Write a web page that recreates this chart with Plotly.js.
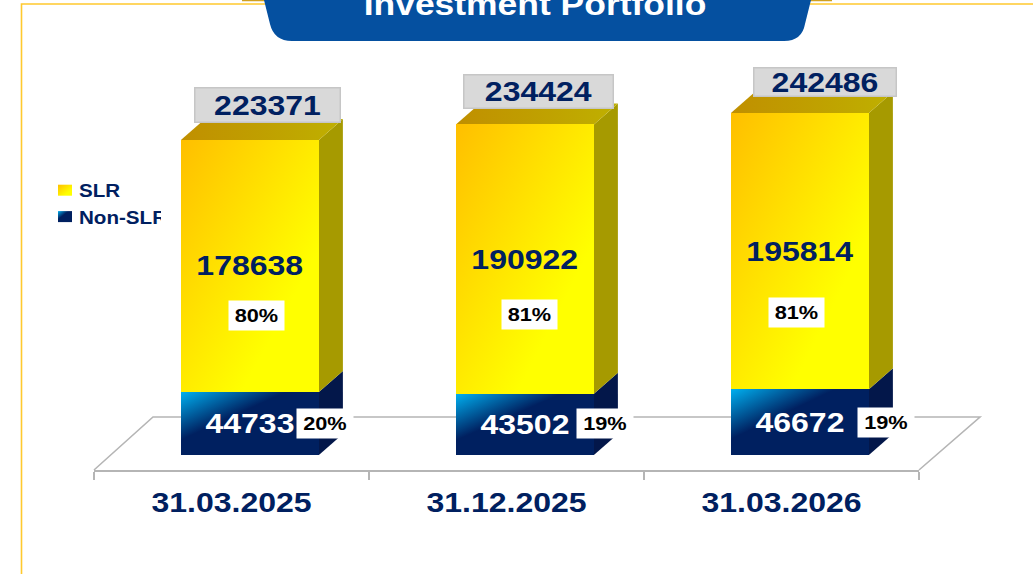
<!DOCTYPE html>
<html>
<head>
<meta charset="utf-8">
<script src="https://cdn.plot.ly/plotly-3.0.1.min.js"></script>
<style>html,body{margin:0;padding:0;background:#fff;overflow:hidden}</style>
</head>
<body>
<div id="chart" style="width:1033px;height:574px"></div>
<script>
// ---- data ----
const categories = ['31.03.2025', '31.12.2025', '31.03.2026'];
const slr = [178638, 190922, 195814];
const nonSlr = [44733, 43502, 46672];
const totals = [223371, 234424, 242486];
const slrPct = ['80%', '81%', '81%'];
const nonSlrPct = ['20%', '19%', '19%'];

// ---- layout constants ----
const L = 94, R = 919, T = 50, B = 470, W = 1033, H = 574;
const K = 0.00141;            // pixels per unit
const PW = R - L, PH = B - T;
const px = v => (v - L) / PW, py = v => (B - v) / PH;
const NAVY = '#002060', STRETCH = 1.143;
const barOff = -0.184, barW = 0.5018;
const depthX = 24 / 275, depthY = 21 / K;

const totalBox = [{dx: 18, dy: -35, w: 144, h: 33}, {dx: 14, dy: -33, w: 148, h: 32}, {dx: 25, dy: -31, w: 141, h: 27}];
const slrBox = [{dx: 7, dy: 50}, {dx: 5, dy: 55}, {dx: -3, dy: 61}];
const nonBox = [{dx: 75, dy: 0}, {dx: 80, dy: -1}, {dx: 86, dy: 0}];

const traces = [
  {type: 'bar', name: 'Non-SLR', x: categories, y: nonSlr, width: barW, offset: barOff,
   marker: {color: '#002060', line: {width: 0}}, legendgroup: 'b', hoverinfo: 'none'},
  {type: 'bar', name: 'SLR', x: categories, y: slr, width: barW, offset: barOff,
   marker: {color: '#ffe000', line: {width: 0}}, legendgroup: 'a', hoverinfo: 'none'}
];

const paperPath = (d, fill, line, lw) => ({type: 'path', xref: 'paper', yref: 'paper', path: d,
  fillcolor: fill, line: {color: line || 'rgba(0,0,0,0)', width: lw || 0}, layer: 'below'});
const P = (x, y) => px(x).toFixed(5) + ',' + py(y).toFixed(5);

const shapes = [
  paperPath('M' + P(21.5, 574) + 'L' + P(21.5, 4) + 'L' + P(265, 4), 'rgba(0,0,0,0)', '#ffc92e', 1.6),
  paperPath('M' + P(810, 4) + 'L' + P(1033, 4), 'rgba(0,0,0,0)', '#ffc92e', 1.6),
  paperPath('M' + P(242, 0) + 'L' + P(832, 0) + 'L' + P(832, 1.2) + 'L' + P(242, 1.2) + 'Z', '#d0a020'),
  paperPath('M' + P(264, 0) + 'L' + P(270, 24) + 'Q' + P(274, 41) + ' ' + P(292, 41) + 'L' + P(784, 41) +
            'Q' + P(802, 41) + ' ' + P(805, 24) + 'L' + P(811, 0) + 'Z', '#0550a0'),
  paperPath('M' + P(94, 470) + 'L' + P(153, 417) + 'L' + P(980, 417) + 'L' + P(919, 470), '#ffffff', '#b5b5b5', 1.6)
];

const dataPath = (d, fill) => ({type: 'path', xref: 'x', yref: 'y', path: d, fillcolor: fill,
  line: {width: 0, color: 'rgba(0,0,0,0)'}, layer: 'below'});
categories.forEach((c, i) => {
  const x1 = i + barOff + barW, x0 = i + barOff, xs = x1 + depthX;
  const y1 = nonSlr[i], y2 = nonSlr[i] + slr[i];
  shapes.push(dataPath(`M${x1},0L${xs},${depthY}L${xs},${y1 + depthY}L${x1},${y1}Z`, '#03174a'));
  shapes.push(dataPath(`M${x1},${y1}L${xs},${y1 + depthY}L${xs},${y2 + depthY}L${x1},${y2}Z`, '#a69a00'));
  shapes.push(dataPath(`M${x0},${y2}L${x0 + depthX},${y2 + depthY}L${xs},${y2 + depthY}L${x1},${y2}Z`, '#c0a000'));
});

const ann = [];
categories.forEach((c, i) => {
  const cx = i + barOff + barW / 2;
  ann.push({x: cx, y: nonSlr[i] + slr[i], xref: 'x', yref: 'y', text: String(totals[i]), showarrow: false,
    xshift: totalBox[i].dx, yshift: -totalBox[i].dy, width: totalBox[i].w, height: totalBox[i].h,
    bgcolor: '#d9d9d9', bordercolor: '#c6c6c6', borderwidth: 1.5, borderpad: 0,
    font: {family: 'Liberation Sans', size: 28, color: NAVY, weight: 700}});
  ann.push({x: cx, y: nonSlr[i] + slr[i] / 2, xref: 'x', yref: 'y', text: String(slr[i]), showarrow: false,
    font: {family: 'Liberation Sans', size: 28, color: NAVY, weight: 700}});
  ann.push({x: cx, y: nonSlr[i] + slr[i] / 2, xref: 'x', yref: 'y', text: slrPct[i], showarrow: false,
    xshift: slrBox[i].dx, yshift: -slrBox[i].dy, width: 55, height: 29, bgcolor: '#ffffff', borderpad: 0,
    font: {family: 'Liberation Sans', size: 19, color: '#000000', weight: 700}});
  ann.push({x: cx, y: nonSlr[i] / 2, xref: 'x', yref: 'y', text: String(nonSlr[i]), showarrow: false,
    yshift: -0, font: {family: 'Liberation Sans', size: 28, color: '#ffffff', weight: 700}});
  ann.push({x: cx, y: nonSlr[i] / 2, xref: 'x', yref: 'y', text: nonSlrPct[i], showarrow: false,
    xshift: nonBox[i].dx, yshift: -nonBox[i].dy, width: 56, height: 29, bgcolor: '#ffffff', borderpad: 0,
    font: {family: 'Liberation Sans', size: 19, color: '#000000', weight: 700}});
});

const layout = {
  width: W, height: H, paper_bgcolor: '#ffffff', plot_bgcolor: 'rgba(0,0,0,0)',
  margin: {l: L, r: W - R, t: T, b: H - B, pad: 0},
  barmode: 'stack', bargap: 0,
  title: {text: 'Investment Portfolio', x: 535 / W, xref: 'container', xanchor: 'center',
          y: 1 - 4 / H, yref: 'container', yanchor: 'middle',
          font: {family: 'Liberation Sans', size: 31, color: '#ffffff', weight: 700}},
  xaxis: {type: 'category', range: [-0.5, 2.5], tickson: 'boundaries', ticks: 'outside', ticklen: 8, tickwidth: 1.5,
          tickcolor: '#b5b5b5', showline: true, linecolor: '#b5b5b5', linewidth: 2, showgrid: false, zeroline: false,
          ticklabelstandoff: 6, fixedrange: true,
          tickfont: {family: 'Liberation Sans', size: 28, color: NAVY, weight: 700}},
  yaxis: {visible: false, range: [-15 / K, 405 / K], fixedrange: true},
  showlegend: true,
  legend: {x: px(39), y: py(172), xanchor: 'left', yanchor: 'top', traceorder: 'reversed', tracegroupgap: 12,
           bgcolor: 'rgba(0,0,0,0)', itemclick: false, itemdoubleclick: false,
           font: {family: 'Liberation Sans', size: 18, color: NAVY, weight: 700}},
  shapes: shapes, annotations: ann
};

Plotly.newPlot('chart', traces, layout, {displayModeBar: false, staticPlot: false}).then(() => {
  const root = document.getElementById('chart');
  const svg = root.querySelector('.main-svg');
  const NS = 'http://www.w3.org/2000/svg';
  const defs = svg.querySelector('defs');
  function grad(id, x2, y2, stops) {
    const g = document.createElementNS(NS, 'linearGradient');
    g.setAttribute('id', id); g.setAttribute('x1', 0); g.setAttribute('y1', 0);
    g.setAttribute('x2', x2); g.setAttribute('y2', y2);
    stops.forEach(s => {
      const e = document.createElementNS(NS, 'stop');
      e.setAttribute('offset', s[0]); e.setAttribute('stop-color', s[1]);
      g.appendChild(e);
    });
    defs.appendChild(g);
  }
  grad('gSlr', 1, 1, [[0, '#ffbf00'], [0.72, '#ffff00'], [1, '#ffff00']]);
  grad('gNon', 1, 1, [[0, '#00b0f0'], [0.38, '#002060'], [1, '#002060']]);
  grad('gTop', 1, 0, [[0, '#c08f00'], [1, '#bfb000']]);

  const bars = root.querySelectorAll('.barlayer .trace');
  bars[0].querySelectorAll('path').forEach(p => p.style.fill = 'url(#gNon)');
  bars[1].querySelectorAll('path').forEach(p => p.style.fill = 'url(#gSlr)');
  root.querySelectorAll('.shapelayer path').forEach(p => {
    if (p.style.fill === 'rgb(192, 160, 0)') p.style.fill = 'url(#gTop)';
  });
  root.querySelectorAll('.legend .traces').forEach(t => {
    const nm = t.querySelector('.legendtext').textContent;
    t.querySelectorAll('.legendpoints path').forEach(p => {
      p.style.fill = nm === 'SLR' ? 'url(#gSlr)' : 'url(#gNon)';
      p.setAttribute('d', 'M13,5.5H-1V-5.5H13Z');
    });
  });
  root.querySelectorAll('.annotation-text, .xtick text, .legendtext, .gtitle').forEach(t => {
    const len = t.getComputedTextLength();
    t.setAttribute('textLength', (len * STRETCH).toFixed(1));
    t.setAttribute('lengthAdjust', 'spacingAndGlyphs');
  });
});
</script>
</body>
</html>
